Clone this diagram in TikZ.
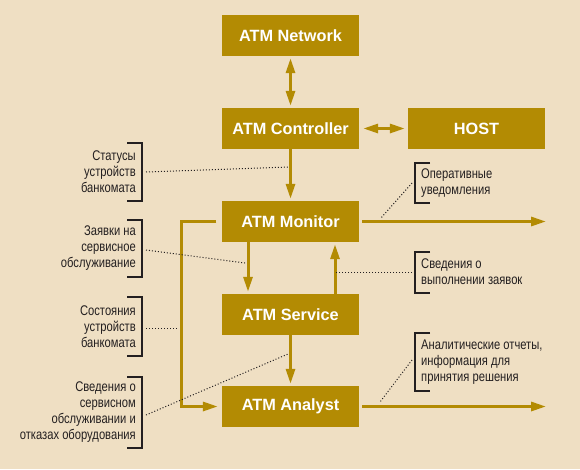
\documentclass[tikz,border=0pt]{standalone}
\usepackage{fontspec}
\setmainfont{Liberation Sans}
\newfontfamily\narrowfont[FakeStretch=0.8]{Liberation Sans}
\usetikzlibrary{arrows.meta}
\definecolor{bg}{HTML}{EFDFC3}
\definecolor{gold}{HTML}{B38B03}
\definecolor{ink}{HTML}{231F20}
\begin{document}
\begin{tikzpicture}[x=1pt,y=-1pt,
  box/.style={fill=gold, text=white, font=\fontsize{16.3}{19}\selectfont\bfseries,
    minimum width=137pt, minimum height=41pt, inner sep=0pt},
  conn/.style={draw=gold, line width=3pt},
  tipend/.style={-{Triangle[length=15pt,width=9pt]}},
  tipboth/.style={{Triangle[length=15pt,width=9pt]}-{Triangle[length=15pt,width=9pt]}},
  lbl/.style={text=ink, font=\narrowfont\fontsize{14}{16}\selectfont, inner sep=0pt},
  brk/.style={draw=ink, line width=2pt},
  dots/.style={draw=ink, line width=1pt, dash pattern=on 1pt off 2pt}
]
\fill[bg] (0,0) rectangle (580,469);
\useasboundingbox (0,0) rectangle (580,469);

% boxes
\node[box] (net)  at (290.5,35.5) {ATM Network};
\node[box] (ctrl) at (290.5,128.5) {ATM Controller};
\node[box] (host) at (476.5,128.5) {HOST};
\node[box] (mon)  at (290.5,221.5) {ATM Monitor};
\node[box] (serv) at (290.5,314.5) {ATM Service};
\node[box] (anal) at (290.5,406.5) {ATM Analyst};

% main connectors
\draw[conn, tipboth, shorten <=2pt, shorten >=2pt] (net.south) -- (ctrl.north);
\draw[conn, tipboth, shorten <=4pt, shorten >=3pt] (ctrl.east) -- (host.west);
\draw[conn, tipend, shorten >=2pt] (ctrl.south) -- (mon.north);
\draw[conn, tipend, shorten >=2pt] ([xshift=-42.5pt]mon.south) -- ([xshift=-42.5pt]serv.north);
\draw[conn, tipend, shorten >=2pt] ([xshift=44.5pt]serv.north) -- ([xshift=44.5pt]mon.south);
\draw[conn, tipend, shorten >=2pt] (serv.south) -- (anal.north);
\draw[conn, tipend, shorten >=4pt] ([xshift=-5.5pt]mon.west) -| ([xshift=-40.5pt]anal.west) -- (anal.west);
\coordinate (monout) at (546,221.5);
\coordinate (analout) at (546,406.5);
\draw[conn, tipend, shorten <=3pt] (mon.east) -- (monout);
\draw[conn, tipend, shorten <=3pt] (anal.east) -- (analout);

% left labels
\node[lbl, anchor=east, align=right] (l1) at (136,172) {Статусы\\устройств\\банкомата};
\node[lbl, anchor=east, align=right] (l2) at (136,248) {Заявки на\\сервисное\\обслуживание};
\node[lbl, anchor=east, align=right] (l3) at (136,326.5) {Состояния\\устройств\\банкомата};
\node[lbl, anchor=east, align=right] (l4) at (136,412.5) {Сведения о\\сервисном\\обслуживании и\\отказах оборудования};

% right labels
\node[lbl, anchor=west, align=left] (r1) at (421,183) {Оперативные\\уведомления};
\node[lbl, anchor=west, align=left] (r2) at (421,272) {Сведения о\\выполнении заявок};
\node[lbl, anchor=west, align=left] (r3) at (421,362) {Аналитические отчеты,\\информация для\\принятия решения};

% brackets
\draw[brk] (127,143) -- (142,143) -- (142,201) -- (127,201);
\draw[brk] (127,219.5) -- (142,219.5) -- (142,277) -- (127,277);
\draw[brk] (127,297) -- (142,297) -- (142,355.5) -- (127,355.5);
\draw[brk] (127,377) -- (142,377) -- (142,448) -- (127,448);
\draw[brk] (430,163) -- (415,163) -- (415,203) -- (430,203);
\draw[brk] (430,252) -- (415,252) -- (415,292.5) -- (430,292.5);
\draw[brk] (430,333) -- (415,333) -- (415,390.5) -- (430,390.5);

% dotted leaders
\coordinate (b1) at (146,172);   \coordinate (a1) at (289,167);
\coordinate (b2) at (146,250);   \coordinate (a2) at (245,263);
\coordinate (b3) at (146,328);   \coordinate (a3) at (177,328);
\coordinate (b4) at (146,415);   \coordinate (a4) at (288,354);
\coordinate (b5) at (412,183);   \coordinate (a5) at (381,218);
\coordinate (b6) at (412,272);   \coordinate (a6) at (336,272);
\coordinate (b7) at (412,360);   \coordinate (a7) at (380,402);
\draw[dots] (b1) -- (a1);
\draw[dots] (b2) -- (a2);
\draw[dots] (b3) -- (a3);
\draw[dots] (b4) -- (a4);
\draw[dots] (b5) -- (a5);
\draw[dots] (b6) -- (a6);
\draw[dots] (b7) -- (a7);
\end{tikzpicture}
\end{document}
